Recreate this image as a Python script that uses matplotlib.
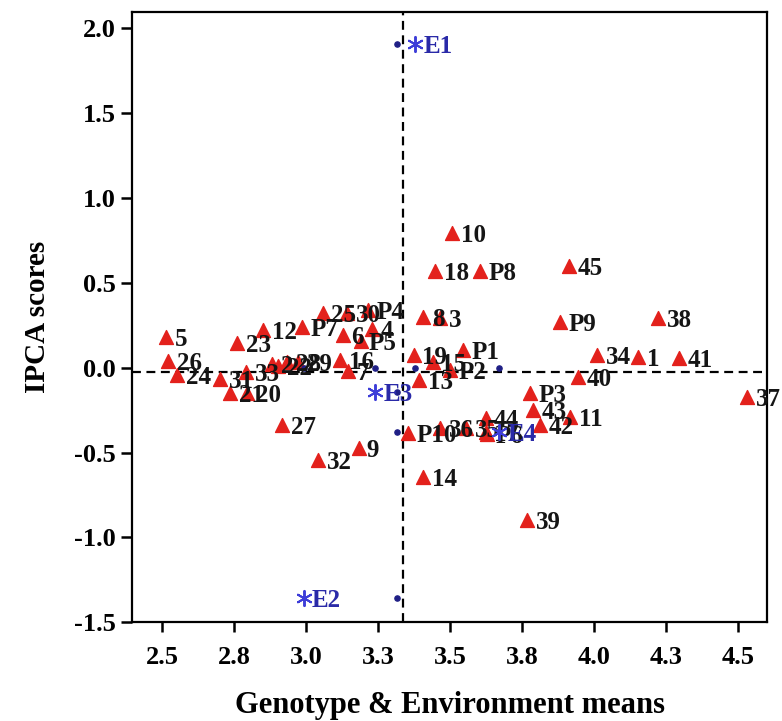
import matplotlib
matplotlib.use("Agg")
import matplotlib.pyplot as plt

# genotypes (means, IPCA1 scores)
gen_names = ["5", "26", "24", "31", "33", "21", "20", "23", "12", "P7",
             "25", "30", "P4", "6", "4", "P5", "16", "7", "2", "22",
             "28", "29", "19", "15", "P1", "P2", "13", "P3", "43", "42",
             "11", "44", "36", "35", "17", "P6", "P10", "14", "9", "32",
             "27", "39", "10", "18", "P8", "45", "8", "3", "P9", "38",
             "34", "1", "41", "40", "37"]
gen_mean = [2.514, 2.521, 2.552, 2.701, 2.792, 2.736, 2.795, 2.760, 2.851, 2.986,
            3.056, 3.142, 3.215, 3.128, 3.229, 3.188, 3.118, 3.146, 2.882, 2.903,
            2.934, 2.972, 3.372, 3.438, 3.545, 3.500, 3.392, 3.778, 3.788, 3.812,
            3.917, 3.622, 3.465, 3.556, 3.622, 3.628, 3.354, 3.406, 3.181, 3.042,
            2.917, 3.767, 3.507, 3.448, 3.604, 3.913, 3.406, 3.465, 3.882, 4.222,
            4.010, 4.153, 4.295, 3.944, 4.531]
gen_ipca = [0.179, 0.038, -0.045, -0.068, -0.027, -0.151, -0.151, 0.144, 0.220, 0.238,
            0.321, 0.321, 0.338, 0.191, 0.226, 0.156, 0.044, -0.021, 0.020, 0.008,
            0.032, 0.032, 0.073, 0.032, 0.103, -0.015, -0.074, -0.151, -0.251, -0.339,
            -0.292, -0.298, -0.357, -0.357, -0.381, -0.392, -0.387, -0.646, -0.475, -0.546,
            -0.339, -0.899, 0.792, 0.568, 0.568, 0.598, 0.297, 0.291, 0.268, 0.291,
            0.073, 0.061, 0.055, -0.057, -0.174]

# environments
env_names = ["E1", "E2", "E3", "E4"]
env_mean = [3.378, 2.990, 3.240, 3.670]
env_ipca = [1.906, -1.359, -0.145, -0.381]

grand_mean = 3.337   # vertical reference line
zero_line = -0.025   # horizontal reference line
env_proj_x = 3.316   # where the environment scores are projected

x_ticks = [2.5, 2.75, 3.0, 3.25, 3.5, 3.75, 4.0, 4.25, 4.5]
x_tick_labels = ["2.5", "2.8", "3.0", "3.3", "3.5", "3.8", "4.0", "4.3", "4.5"]
y_ticks = [-1.5, -1.0, -0.5, 0.0, 0.5, 1.0, 1.5, 2.0]

plt.rcParams['font.family'] = ['Liberation Serif', 'DejaVu Serif']
plt.rcParams['font.weight'] = 'bold'

fig = plt.figure(figsize=(7.82, 7.21), dpi=100)
ax = fig.add_axes([0.169, 0.137, 0.812, 0.846])

# reference lines
ax.axvline(grand_mean, color='black', ls=(0, (4, 2.5)), lw=1.6, zorder=1)
ax.axhline(zero_line, color='black', ls=(0, (4, 2.5)), lw=1.6, zorder=1)

# genotypes
ax.scatter(gen_mean, gen_ipca, marker='^', s=100, color='#e3211c', zorder=3)
for name, x, y in zip(gen_names, gen_mean, gen_ipca):
    ax.annotate(name, (x, y), xytext=(6, 0), textcoords='offset points',
                va='center_baseline', ha='left', fontsize=18,
                fontweight='bold', color='#151515', zorder=4)

# environments + their projections on the two axes
ax.scatter([env_proj_x] * len(env_ipca), env_ipca, s=14, color='#1f1f85', zorder=3)
ax.scatter(env_mean, [0.0] * len(env_mean), s=14, color='#1f1f85', zorder=3)
ax.scatter(env_mean, env_ipca, marker=(6, 2, 0), s=120, color='#3d3dd8',
           linewidths=1.4, zorder=4)
for name, x, y in zip(env_names, env_mean, env_ipca):
    ax.annotate(name, (x, y), xytext=(6, 0), textcoords='offset points',
                va='center_baseline', ha='left', fontsize=18,
                fontweight='bold', color='#2a2aa8', zorder=5)

ax.set_xlim(2.395, 4.60)
ax.set_ylim(-1.5, 2.094)
ax.set_xticks(x_ticks)
ax.set_xticklabels(x_tick_labels)
ax.set_yticks(y_ticks)
ax.set_yticklabels(["%.1f" % v for v in y_ticks])

for side in ax.spines:
    ax.spines[side].set_linewidth(1.6)
ax.tick_params(axis='x', direction='out', length=7, width=1.8, labelsize=19, pad=10)
ax.tick_params(axis='y', direction='out', length=8, width=1.8, labelsize=19, pad=4)

ax.set_xlabel("Genotype & Environment means", fontsize=22, fontweight='bold', labelpad=16)
ax.set_ylabel("IPCA scores", fontsize=21, fontweight='bold', labelpad=16)

fig.savefig("out.png", dpi=100)
